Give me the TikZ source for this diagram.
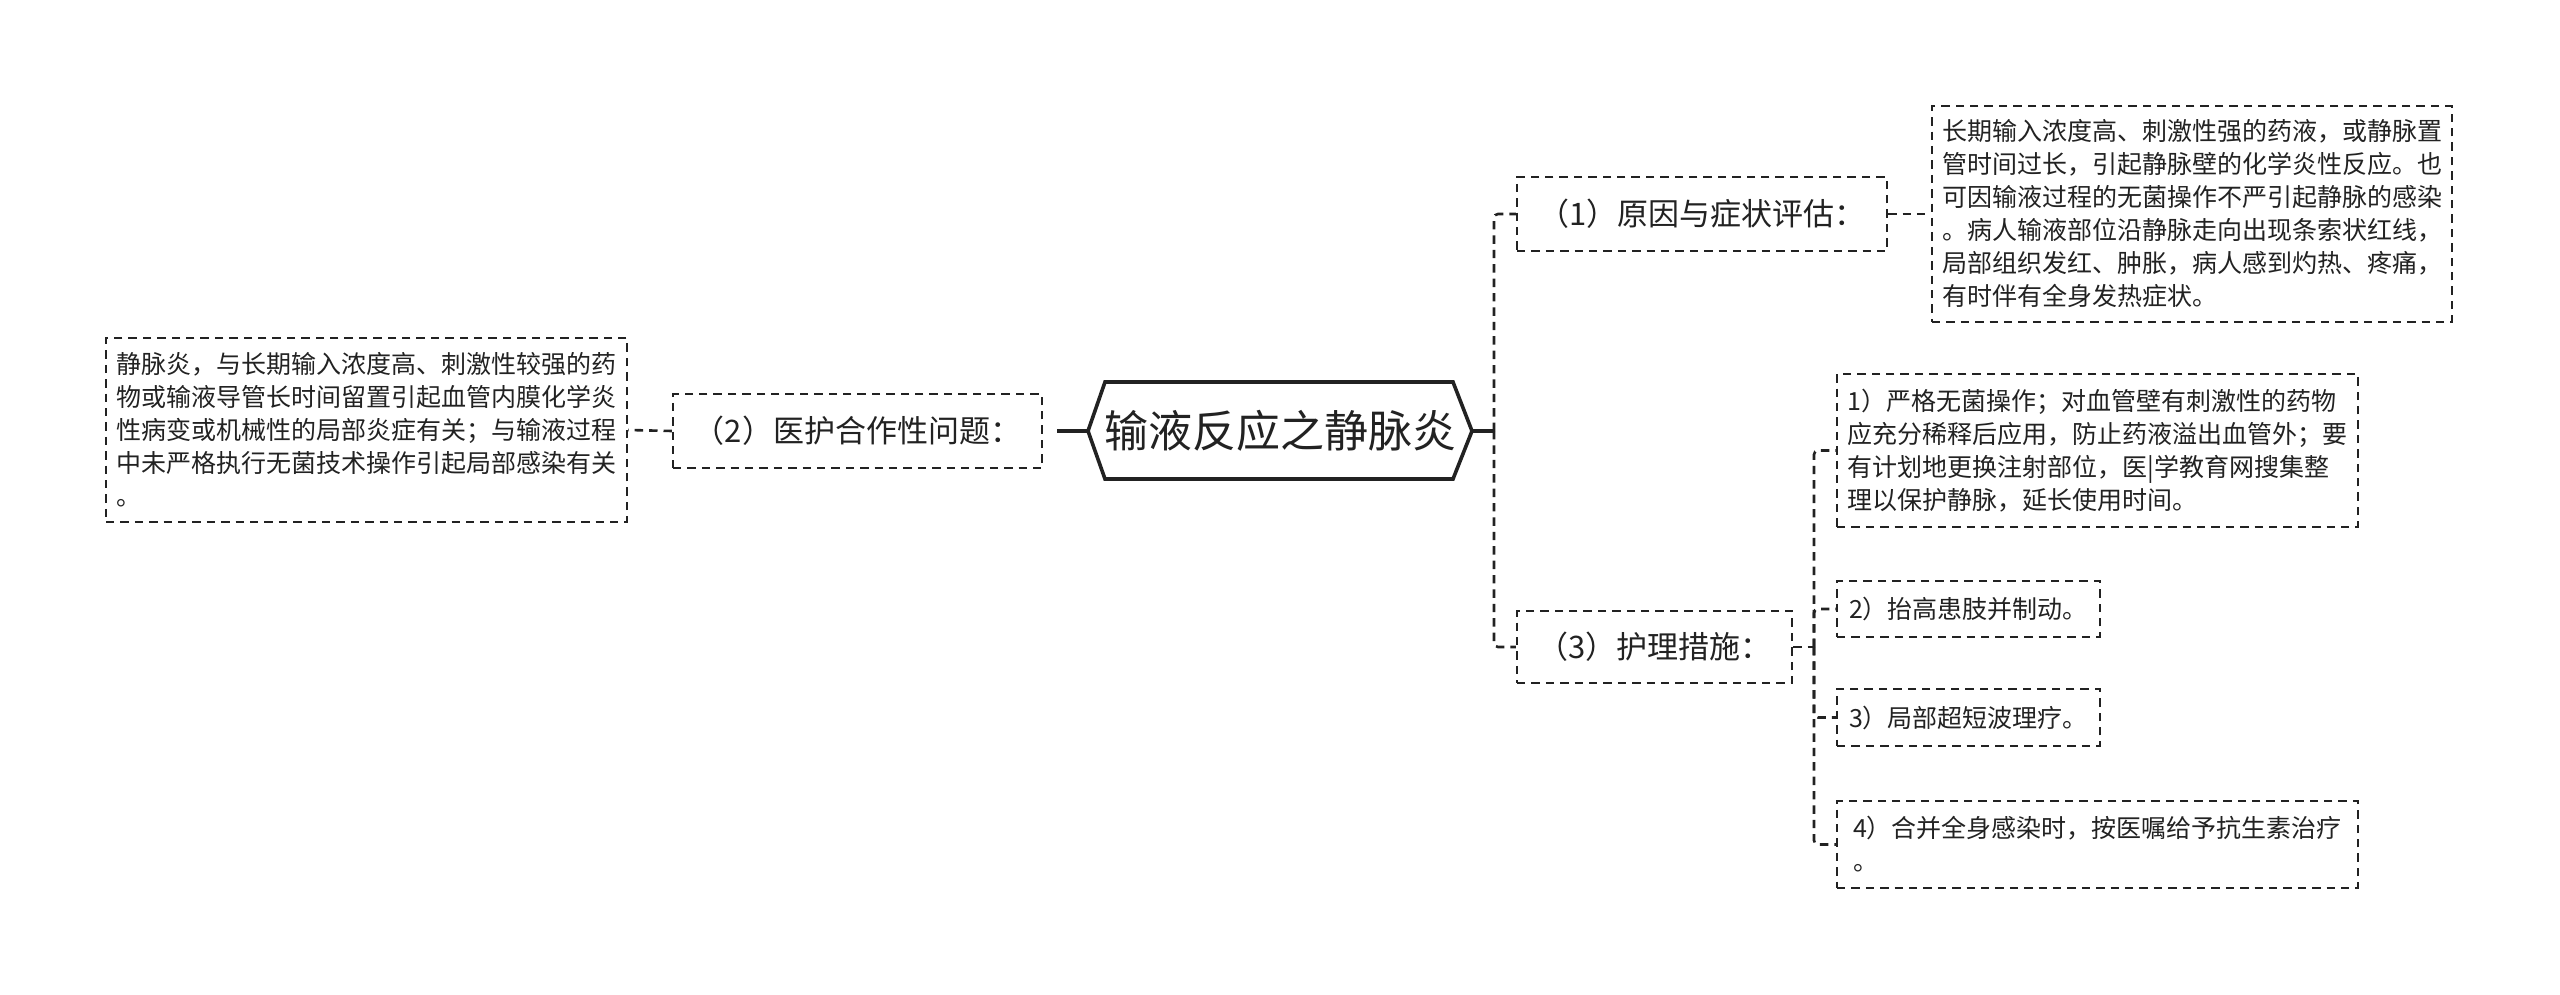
\documentclass[tikz,border=0pt]{standalone}
\usepackage{fontspec}
\setmainfont{Noto Sans CJK SC}
\definecolor{ink}{HTML}{222222}
\begin{document}
\begin{tikzpicture}[x=0.5pt,y=-0.5pt,
  box/.style={draw=ink, line width=1.1pt, dash pattern=on 4.2pt off 3pt, inner sep=0pt, text=ink, align=left},
  small/.style={font=\fontsize{12.5}{16.5}\selectfont},
  mid/.style={font=\fontsize{15.5}{18}\selectfont},
  conn/.style={draw=ink, line width=1.3pt, dash pattern=on 4.2pt off 3pt, rounded corners=2pt},
  solidconn/.style={draw=ink, line width=1.8pt}]
\useasboundingbox[fill=white] (0,0) rectangle (2560,995);

% root
\node[font=\fontsize{22}{26}\selectfont, text=ink, inner sep=0pt] (root) at (1280,431) {输液反应之静脉炎};
\coordinate (rootL) at (1088,431);
\coordinate (rootR) at (1472,431);
\draw[solidconn, line join=miter] (rootL) -- (1105,382) -- (1453,382) -- (rootR) -- (1453,479) -- (1105,479) -- cycle;

% first level
\node[box,mid,minimum width=185pt,minimum height=37pt] (n1) at (1702,214) {（1）原因与症状评估：};
\node[box,mid,minimum width=184.5pt,minimum height=37pt] (n2) at (857.5,431) {（2）医护合作性问题：};
\node[box,mid,minimum width=137.5pt,minimum height=36pt] (n3) at (1654.5,647) {（3）护理措施：};

% details
\node[box,small,minimum width=260pt,minimum height=108pt] (d1) at (2192,214) {长期输入浓度高、刺激性强的药液，或静脉置\\管时间过长，引起静脉壁的化学炎性反应。也\\可因输液过程的无菌操作不严引起静脉的感染\\。病人输液部位沿静脉走向出现条索状红线，\\局部组织发红、肿胀，病人感到灼热、疼痛，\\有时伴有全身发热症状。};
\node[box,small,minimum width=260.5pt,minimum height=92pt] (dL) at (366.5,430) {静脉炎，与长期输入浓度高、刺激性较强的药\\物或输液导管长时间留置引起血管内膜化学炎\\性病变或机械性的局部炎症有关；与输液过程\\中未严格执行无菌技术操作引起局部感染有关\\。};
\node[box,small,minimum width=260.5pt,minimum height=76.5pt] (s1) at (2097.5,450.5) {1）严格无菌操作；对血管壁有刺激性的药物\\应充分稀释后应用，防止药液溢出血管外；要\\有计划地更换注射部位，医|学教育网搜集整\\理以保护静脉，延长使用时间。};
\node[box,small,minimum width=131.5pt,minimum height=28pt] (s2) at (1968.5,609) {2）抬高患肢并制动。};
\node[box,small,minimum width=131.5pt,minimum height=28.5pt] (s3) at (1968.5,717.5) {3）局部超短波理疗。};
\node[box,small,minimum width=260.5pt,minimum height=43.5pt] (s4) at (2097.5,844.5) {4）合并全身感染时，按医嘱给予抗生素治疗\\。};

% connectors
\coordinate (tR) at (1494,431);
\draw[solidconn] (rootR) -- (tR);
\draw[conn] (tR) |- (n1.west);
\draw[conn] (tR) |- (n3.west);
\draw[solidconn, shorten >=7pt] (rootL) -- (n2.east);
\draw[conn] (n2.west) -- (dL.east);
\draw[conn] (n1.east) -- (d1.west);
\coordinate (t3) at (1814,647);
\draw[conn] (n3.east) -- (t3);
\draw[conn] (t3) |- (s1.west);
\draw[conn] (t3) |- (s2.west);
\draw[conn] (t3) |- (s3.west);
\draw[conn] (t3) |- (s4.west);
\end{tikzpicture}
\end{document}
